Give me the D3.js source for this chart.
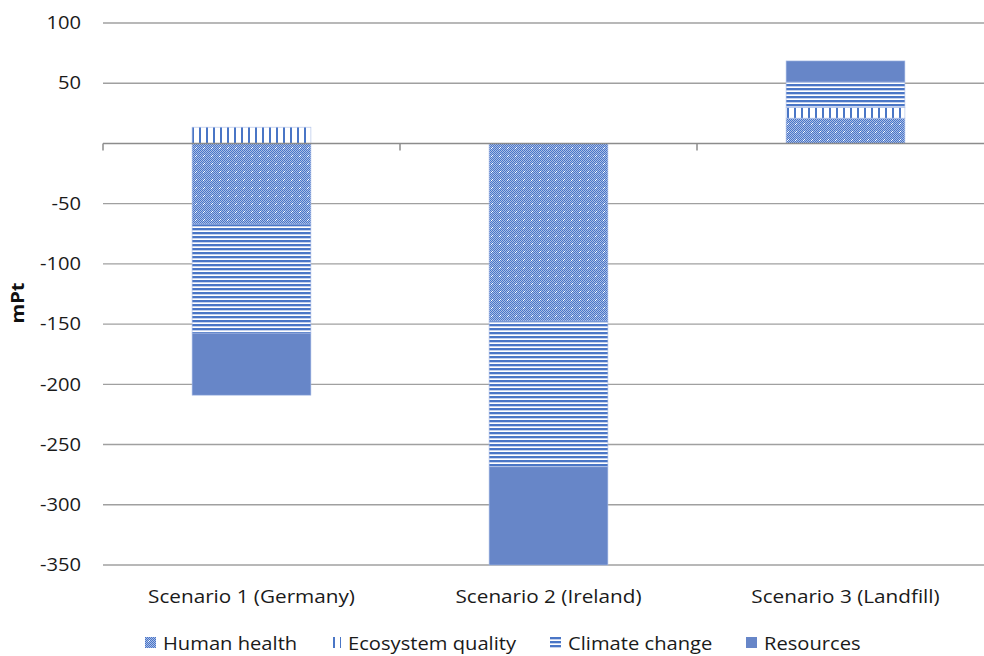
<!DOCTYPE html>
<html>
<head>
<meta charset="utf-8">
<script src="https://cdn.jsdelivr.net/npm/d3@7"></script>
<style>
  html, body { margin: 0; padding: 0; background: #fff; }
  svg { display: block; font-family: "Open Sans", sans-serif; }
</style>
</head>
<body>
<svg id="chart" width="984" height="656"></svg>
<script>
// Scenario categories and impact-category series (mPt)
const scenarios = ["Scenario 1 (Germany)", "Scenario 2 (Ireland)", "Scenario 3 (Landfill)"];
const seriesNames = ["Human health", "Ecosystem quality", "Climate change", "Resources"];
const humanHealth      = [-67, -147.5, 21];
const ecosystemQuality = [13.5, 0, 9];
const climateChange    = [-90.5, -121, 21];
const resources        = [-51.5, -81.5, 17.5];
const yTicks = [100, 50, 0, -50, -100, -150, -200, -250, -300, -350];

const rows = scenarios.map((s, i) => ({
  scenario: s,
  "Human health": humanHealth[i],
  "Ecosystem quality": ecosystemQuality[i],
  "Climate change": climateChange[i],
  "Resources": resources[i]
}));

const svg = d3.select("#chart");
const plotLeft = 103, plotRight = 994, plotTop = 23, plotBottom = 565;
const textColor = "#1a1a1a";
const stretch = 1.12; // slightly wide lettering

const x = d3.scaleBand().domain(scenarios).range([plotLeft, plotRight])
  .paddingInner(0.6).paddingOuter(0.3);
const y = d3.scaleLinear().domain([-350, 100]).range([plotBottom, plotTop]);

// Fill patterns for each series
const defs = svg.append("defs");
const blue = "#4a76c6";
const solid = "#6786c8";

// fine checkerboard with a sparse grid of white dots
const pHH = defs.append("pattern").attr("id", "pat-hh")
  .attr("patternUnits", "userSpaceOnUse").attr("width", 8).attr("height", 8);
pHH.append("rect").attr("width", 8).attr("height", 8).attr("fill", "#a9bde8");
for (let r = 0; r < 8; r++) for (let c = 0; c < 8; c++) {
  if ((r + c) % 2 === 0) pHH.append("rect").attr("x", c).attr("y", r).attr("width", 1).attr("height", 1).attr("fill", blue);
}
pHH.append("rect").attr("x", 3).attr("y", 4).attr("width", 1).attr("height", 1).attr("fill", "#fff");
pHH.append("rect").attr("x", 4).attr("y", 3).attr("width", 1).attr("height", 1).attr("fill", "#fff");

// vertical lines
const pEQ = defs.append("pattern").attr("id", "pat-eq")
  .attr("patternUnits", "userSpaceOnUse").attr("width", 7).attr("height", 7);
pEQ.append("rect").attr("width", 7).attr("height", 7).attr("fill", "#fff");
pEQ.append("rect").attr("x", 3).attr("width", 2).attr("height", 7).attr("fill", blue);

// horizontal lines
const pCC = defs.append("pattern").attr("id", "pat-cc")
  .attr("patternUnits", "userSpaceOnUse").attr("width", 8).attr("height", 4);
pCC.append("rect").attr("width", 8).attr("height", 4).attr("fill", "#fff");
pCC.append("rect").attr("y", 0).attr("width", 8).attr("height", 2).attr("fill", blue);
pCC.append("rect").attr("y", 2).attr("width", 8).attr("height", 0.6).attr("fill", "#9fb5e2");

const fills = {
  "Human health": "url(#pat-hh)",
  "Ecosystem quality": "url(#pat-eq)",
  "Climate change": "url(#pat-cc)",
  "Resources": solid
};

// gridlines
svg.append("g").selectAll("line").data(yTicks.filter(t => t !== 0)).join("line")
  .attr("x1", plotLeft).attr("x2", 984)
  .attr("y1", d => y(d)).attr("y2", d => y(d))
  .attr("stroke", "#a0a0a0").attr("stroke-width", 1.4);

// y tick labels (the zero line carries no label)
const yAxis = svg.append("g").attr("transform", `translate(${plotLeft},0)`)
  .call(d3.axisLeft(y).tickValues(yTicks).tickSize(0)
    .tickFormat(d => d === 0 ? "" : String(d)));
yAxis.select(".domain").remove();
yAxis.selectAll("text")
  .attr("x", -22 / stretch)
  .attr("transform", `scale(${stretch},1)`)
  .attr("font-size", 18).attr("fill", textColor)
  .style("font-family", "'Open Sans', sans-serif");

// stacked bars
const stack = d3.stack().keys(seriesNames).offset(d3.stackOffsetDiverging);
const layers = stack(rows);
svg.append("g").selectAll("g").data(layers).join("g")
  .attr("fill", d => fills[d.key])
  .selectAll("rect").data(d => d).join("rect")
  .attr("x", d => x(d.data.scenario))
  .attr("width", x.bandwidth())
  .attr("y", d => y(Math.max(d[0], d[1])))
  .attr("height", d => Math.abs(y(d[0]) - y(d[1])))
  .attr("stroke", "#a9bce6").attr("stroke-width", 0.6);

// category axis at zero
const xAxis = svg.append("g").attr("transform", `translate(0,${y(0)})`);
xAxis.append("line").attr("x1", plotLeft).attr("x2", 984)
  .attr("stroke", "#8c8c8c").attr("stroke-width", 1.5);
const bounds = [0, 1, 2, 3].map(i => plotLeft + i * x.step());
xAxis.selectAll(".tk").data(bounds).join("line").attr("class", "tk")
  .attr("x1", d => d).attr("x2", d => d).attr("y1", 0).attr("y2", 7)
  .attr("stroke", "#8c8c8c").attr("stroke-width", 1.5);

// category labels
svg.append("g").selectAll("text").data(scenarios).join("text")
  .attr("transform", d => `translate(${x(d) + x.bandwidth() / 2},603) scale(${stretch},1)`)
  .attr("text-anchor", "middle").attr("font-size", 18.5).attr("fill", textColor)
  .text(d => d);

// y axis title
svg.append("text").attr("transform", `translate(24,303) rotate(-90) scale(${stretch},1)`)
  .attr("text-anchor", "middle").attr("font-size", 18).attr("font-weight", "bold")
  .attr("fill", "#111").text("mPt");

// legend
const legendX = [145, 330, 550, 746];
const lg = svg.append("g").selectAll("g").data(seriesNames).join("g")
  .attr("transform", (d, i) => `translate(${legendX[i]},637)`);
lg.append("rect").attr("width", 11).attr("height", 11)
  .attr("fill", d => fills[d]);
lg.append("text")
  .attr("transform", `translate(18,13) scale(${stretch},1)`)
  .attr("font-size", 18)
  .attr("fill", textColor).text(d => d);
</script>
</body>
</html>
